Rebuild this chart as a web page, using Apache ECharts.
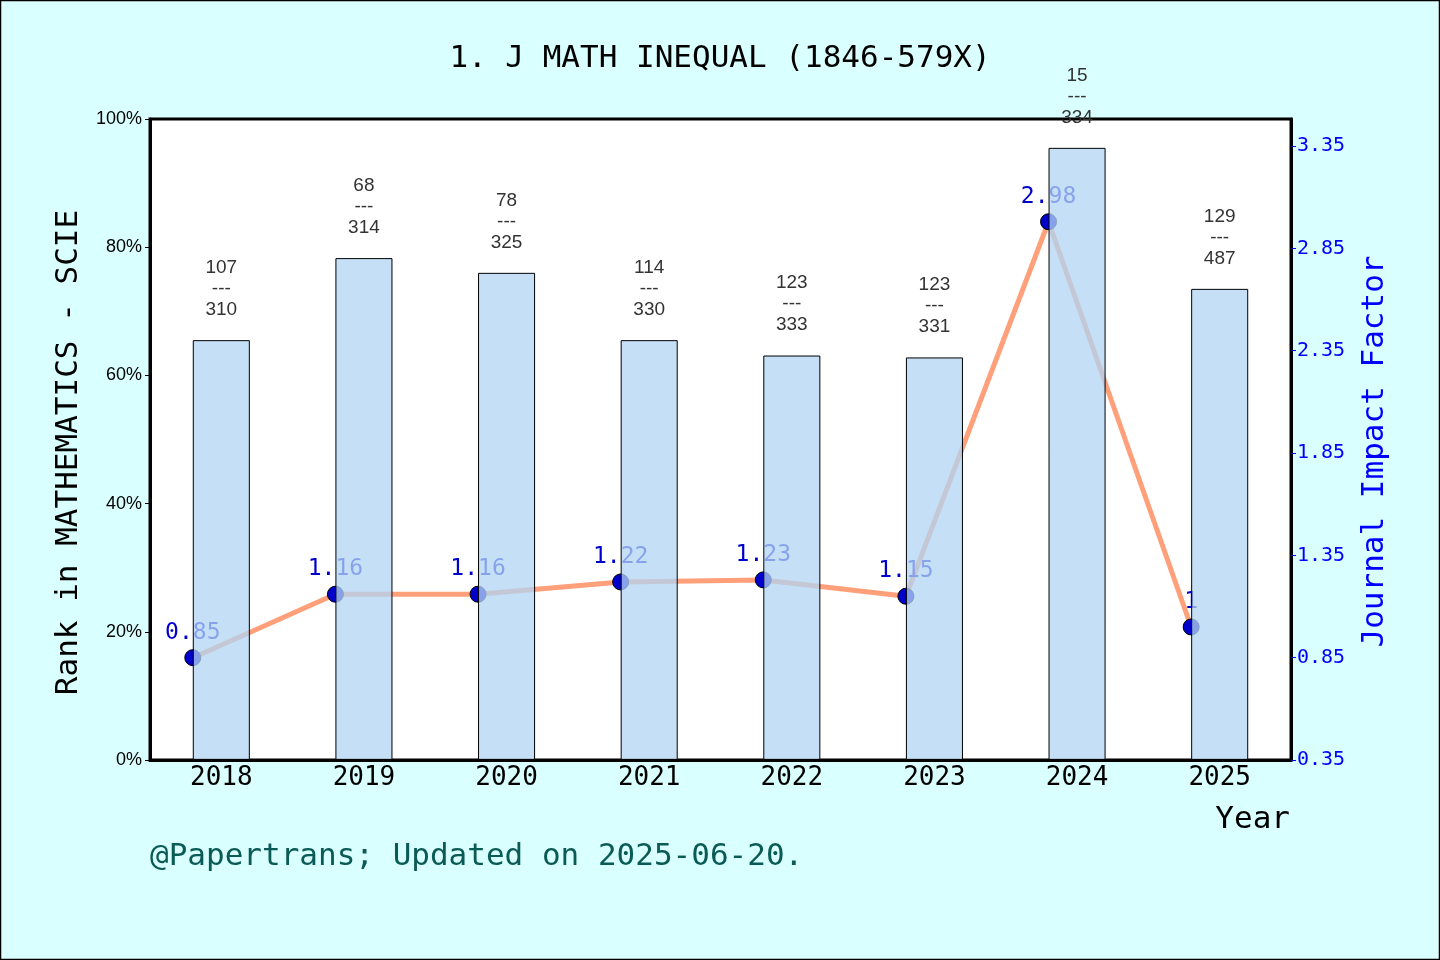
<!DOCTYPE html>
<html>
<head>
<meta charset="utf-8">
<script src="https://cdn.jsdelivr.net/npm/echarts@6/dist/echarts.min.js"></script>
<style>
  html, body { margin: 0; padding: 0; }
  #main { width: 1440px; height: 960px; }
</style>
</head>
<body>
<div id="main"></div>
<script>
// data
var years = ['2018', '2019', '2020', '2021', '2022', '2023', '2024', '2025'];
var ranks = [107, 68, 78, 114, 123, 123, 15, 129];
var totals = [310, 314, 325, 330, 333, 331, 334, 487];
var percentile = [65.5, 78.3, 76.0, 65.5, 63.1, 62.8, 95.5, 73.5];
var jif = [0.85, 1.16, 1.16, 1.22, 1.23, 1.15, 2.98, 1];

var mono = "'DejaVu Sans Mono', monospace";
var sans = "'Liberation Sans', Arial, sans-serif";

var chart = echarts.init(document.getElementById('main'));

var jifPoints = [];
for (var i = 0; i < jif.length; i++) {
    jifPoints.push([i, jif[i]]);
}

var option = {
    animation: false,
    backgroundColor: '#d9ffff',
    title: [
        {
            text: '1. J MATH INEQUAL (1846-579X)',
            left: 'center',
            top: 43,
            padding: 0,
            textStyle: { fontFamily: mono, fontSize: 31, fontWeight: 'normal', color: '#000' }
        },
        {
            text: 'Year',
            right: 150,
            top: 804,
            padding: 0,
            textStyle: { fontFamily: mono, fontSize: 31, fontWeight: 'normal', color: '#000' }
        },
        {
            text: '@Papertrans; Updated on 2025-06-20.',
            left: 150,
            top: 841,
            padding: 0,
            textStyle: { fontFamily: mono, fontSize: 31, fontWeight: 'normal', color: '#0a5a55' }
        }
    ],
    graphic: [{
        type: 'rect',
        shape: { x: 0.5, y: 0.5, width: 1439, height: 959 },
        style: { fill: 'none', stroke: '#000', lineWidth: 1.5 },
        silent: true
    }],
    grid: {
        left: 150, right: 149, top: 119, bottom: 200,
        show: true,
        backgroundColor: '#fff',
        borderColor: '#000',
        borderWidth: 3
    },
    xAxis: [
        {
            type: 'category',
            data: years,
            boundaryGap: true,
            axisLine: { onZero: false, lineStyle: { color: '#000', width: 3 } },
            axisTick: { inside: true, length: 5, lineStyle: { color: '#000', width: 1 } },
            axisLabel: { fontFamily: mono, fontSize: 26, color: '#000', margin: 5 },
            splitLine: { show: false }
        },
        {
            type: 'value',
            min: -0.3,
            max: 7.7,
            show: false
        }
    ],
    yAxis: [
        {
            type: 'value',
            min: 0,
            max: 100,
            interval: 20,
            name: 'Rank in MATHEMATICS - SCIE',
            nameLocation: 'middle',
            nameGap: 66,
            nameTextStyle: { fontFamily: mono, fontSize: 31, color: '#000', padding: [0, 26, 0, 0] },
            axisLine: { show: true, onZero: false, lineStyle: { color: '#000', width: 3 } },
            axisTick: { show: true, length: 5, lineStyle: { color: '#000', width: 1 } },
            axisLabel: { formatter: '{value}%', fontFamily: sans, fontSize: 18, color: '#000', margin: 8 },
            splitLine: { show: false }
        },
        {
            type: 'value',
            position: 'right',
            min: 0.35,
            max: 3.482,
            interval: 0.5,
            name: 'Journal Impact Factor',
            nameLocation: 'middle',
            nameRotate: 90,
            nameGap: 68,
            nameTextStyle: { fontFamily: mono, fontSize: 31, color: '#0000ff', padding: [0, 24, 0, 0] },
            axisLine: { show: true, onZero: false, lineStyle: { color: '#000', width: 3 } },
            axisTick: { show: true, length: 5, lineStyle: { color: '#0000ff', width: 1 } },
            axisLabel: {
                fontFamily: mono, fontSize: 20, color: '#0000ff', margin: 6,
                showMaxLabel: false,
                formatter: function (v) { return v.toFixed(2); }
            },
            splitLine: { show: false }
        }
    ],
    series: [
        {
            // impact factor line, drawn under the bars
            type: 'line',
            xAxisIndex: 1,
            yAxisIndex: 1,
            z: 2,
            data: jifPoints,
            symbol: 'circle',
            symbolSize: 16,
            lineStyle: { color: '#ffa07a', width: 5 },
            itemStyle: { color: '#0000cd', borderColor: '#000', borderWidth: 1 },
            label: {
                show: true,
                position: 'top',
                distance: 5,
                fontFamily: mono,
                fontSize: 23,
                color: '#0000cd',
                formatter: function (p) { return String(p.value[1]); }
            }
        },
        {
            type: 'bar',
            xAxisIndex: 0,
            yAxisIndex: 0,
            z: 3,
            barWidth: '40%',
            data: percentile,
            itemStyle: {
                color: 'rgba(177,213,243,0.76)',
                borderColor: '#000',
                borderWidth: 1
            },
            label: {
                show: true,
                position: 'top',
                distance: 20,
                fontFamily: sans,
                fontSize: 19,
                lineHeight: 21,
                color: '#333',
                formatter: function (p) {
                    return ranks[p.dataIndex] + '\n---\n' + totals[p.dataIndex];
                }
            }
        }
    ]
};

chart.setOption(option);
</script>
</body>
</html>
